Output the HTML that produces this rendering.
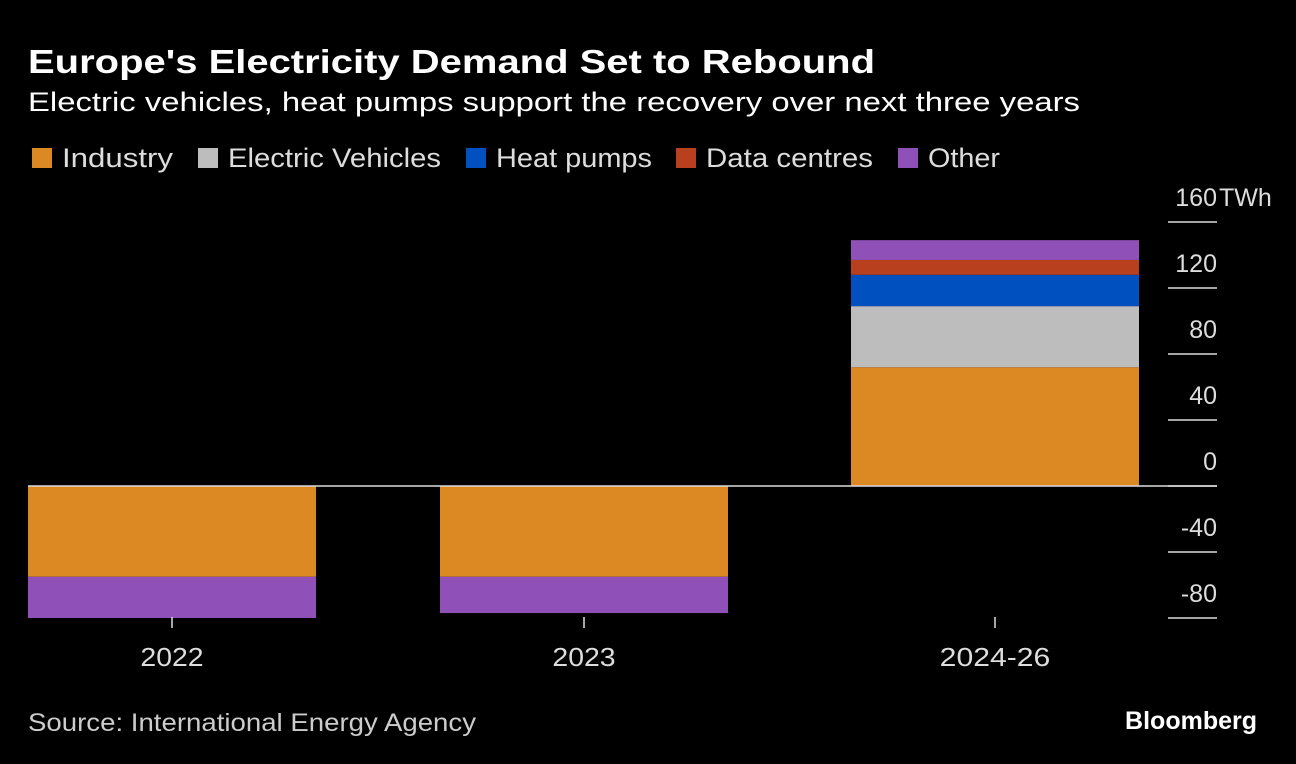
<!DOCTYPE html>
<html><head><meta charset="utf-8">
<style>
body{margin:0;background:#000;width:1296px;height:764px;overflow:hidden;font-family:"Liberation Sans",sans-serif;color:#fff}
</style></head><body>
<svg id="c" width="1296" height="764" style="position:absolute;left:0;top:0">
<text x="28" y="73" font-size="33" font-weight="bold" fill="#fff" textLength="847" lengthAdjust="spacingAndGlyphs">Europe's Electricity Demand Set to Rebound</text>
<text x="28" y="111" font-size="27" fill="#fff" textLength="1052" lengthAdjust="spacingAndGlyphs">Electric vehicles, heat pumps support the recovery over next three years</text>
<g id="legend"></g>
<g id="grid"></g>
<g id="bars"></g>
<text x="28" y="731" font-size="25" fill="#ccc" textLength="448" lengthAdjust="spacingAndGlyphs">Source: International Energy Agency</text>
<text x="1257" y="729" font-size="25" font-weight="bold" fill="#fff" text-anchor="end">Bloomberg</text>
</svg>
<script>
const categories=["2022","2023","2024-26"];
const seriesNames=["Industry","Electric Vehicles","Heat pumps","Data centres","Other"];
const colors=["#dc8923","#bdbdbd","#0051bf","#b8401f","#8f51b8"];
const industry=[-55,-55,72];
const ev=[0,0,37];
const heatPumps=[0,0,19];
const dataCentres=[0,0,9];
const other=[-25,-22,12];
const ticks=[-80,-40,0,40,80,120,160];
const series=[industry,ev,heatPumps,dataCentres,other];
const NS="http://www.w3.org/2000/svg";
const y0=486,ppu=1.65;
const yS=v=>y0-v*ppu;
const barX=[28,440,851],barW=288;
function mk(t,a,p){const e=document.createElementNS(NS,t);for(const k in a)e.setAttribute(k,a[k]);p.appendChild(e);return e;}
const lg=document.getElementById('legend');
const lx=[32,198,466,676,898];
const lw=[111,213,156,167,72];
seriesNames.forEach((n,i)=>{
 const r=mk('rect',{x:lx[i],y:148,width:20,height:20,fill:colors[i]},lg);
 
 
 const t=mk('text',{x:lx[i]+30,y:167,'font-size':27,fill:'#ddd',textLength:lw[i],lengthAdjust:'spacingAndGlyphs'},lg);
 t.textContent=n;
 
 
});
const g=document.getElementById('grid');
ticks.forEach(v=>{
 const l=mk('line',{x1:1168,x2:1217,y1:yS(v),y2:yS(v),stroke:'#ddd','stroke-width':1.5},g);
 
 
 const t=mk('text',{x:1217,y:yS(v)-16,'font-size':25,fill:'#ddd','text-anchor':'end'},g);
 t.textContent=v;
 
 
});
const u=mk('text',{x:1219,y:yS(160)-16,'font-size':25,fill:'#ddd'},g);u.textContent='TWh';


const b=document.getElementById('bars');
categories.forEach((c,i)=>{
 let pos=0,neg=0;
 series.forEach((s,j)=>{
  const v=s[i];if(!v)return;
  let top,h;
  if(v>0){top=yS(pos+v);h=v*ppu;pos+=v;}else{top=yS(neg);h=-v*ppu;neg+=v;}
  const r=mk('rect',{x:barX[i],y:top,width:barW,height:h,fill:colors[j]},b);
  
  
 });
 const cx=barX[i]+barW/2;
 const tk=mk('line',{x1:cx,x2:cx,y1:617,y2:628,stroke:'#ddd','stroke-width':1.5},b);
 
 
 const t=mk('text',{x:cx,y:666,'font-size':26,fill:'#ddd','text-anchor':'middle',textLength:c.length*15.8,lengthAdjust:'spacingAndGlyphs'},b);
 t.textContent=c;
 
 
});
const z=mk('line',{x1:28,x2:1217,y1:y0,y2:y0,stroke:'#ddd','stroke-width':1.5},b);


</script>
</body></html>
